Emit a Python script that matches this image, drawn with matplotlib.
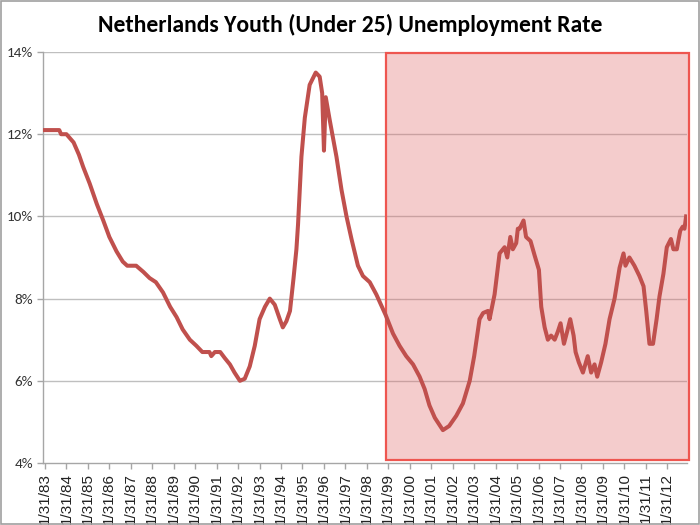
import matplotlib
matplotlib.use("Agg")
import matplotlib.pyplot as plt
from matplotlib.patches import Rectangle

# months since Jan 1983 and youth unemployment rate (%)
months = [0, 8, 9, 12, 14, 16, 19, 21.4, 25, 29, 32.6, 36, 40, 43.5, 46, 51, 55, 58.5,
          62, 66, 70, 73.6, 77, 81, 84.7, 88, 92, 93, 95, 98, 100.6, 103.4, 106, 109,
          111.7, 114.5, 117.3, 120, 123, 125.7, 128.5, 131.3, 133, 135, 137, 139, 140.6,
          141.5, 143.4, 145.3, 148, 151.4, 153.6, 155, 156, 157, 159.2, 163, 165.8, 168.6,
          171.4, 175, 177.8, 181.6, 185.3, 190.5, 194.6, 198.3, 202, 205.8, 209.5, 212.3,
          215, 218, 222.5, 226, 230, 233.7, 237.5, 240, 243, 245, 247.7, 248.6, 251.4,
          254.2, 257, 258.5, 260.2, 261.6, 263.5, 264.4, 265.4, 267.6, 269, 271.5, 273.8,
          276.2, 277.5, 279.4, 281.2, 283, 285, 286.8, 288.3, 290.2, 292, 293.7, 295.6,
          296.7, 298.5, 300.8, 303.5, 305.4, 307.3, 308.8, 311, 313.4, 315.7, 318.5,
          321.3, 323.5, 324.6, 326.8, 329.6, 332.4, 334.7, 336.2, 338, 340, 342, 343.6,
          345.8, 347.7, 350, 351.4, 353.3, 355.2, 356.6, 357.6, 358.5]
rates = [12.1, 12.1, 12.0, 12.0, 11.9, 11.8, 11.5, 11.2, 10.8, 10.3, 9.9, 9.5, 9.15, 8.9,
         8.8, 8.8, 8.65, 8.5, 8.4, 8.15, 7.8, 7.55, 7.25, 7.0, 6.85, 6.7, 6.7, 6.6, 6.7,
         6.7, 6.55, 6.4, 6.2, 6.0, 6.05, 6.35, 6.85, 7.5, 7.8, 8.0, 7.85, 7.5, 7.3, 7.45,
         7.7, 8.5, 9.2, 9.8, 11.45, 12.4, 13.2, 13.5, 13.4, 13.0, 11.6, 12.9, 12.35, 11.45,
         10.65, 10.0, 9.45, 8.8, 8.55, 8.4, 8.1, 7.6, 7.15, 6.85, 6.6, 6.4, 6.1, 5.8, 5.4,
         5.1, 4.8, 4.9, 5.15, 5.45, 6.0, 6.6, 7.5, 7.65, 7.7, 7.5, 8.1, 9.1, 9.25, 9.0, 9.5,
         9.2, 9.35, 9.7, 9.7, 9.9, 9.5, 9.4, 9.05, 8.7, 7.8, 7.3, 7.0, 7.1, 7.0, 7.2, 7.4,
         6.9, 7.2, 7.5, 7.1, 6.7, 6.45, 6.2, 6.6, 6.2, 6.4, 6.1, 6.45, 6.9, 7.5, 8.0, 8.75,
         9.1, 8.8, 9.0, 8.8, 8.55, 8.3, 7.7, 6.9, 6.9, 7.5, 8.05, 8.6, 9.25, 9.45, 9.2, 9.2,
         9.65, 9.75, 9.7, 10.0]

tick_months = list(range(0, 349, 12))
tick_labels = ["1/31/%02d" % (y % 100) for y in range(1983, 2013)]
y_ticks = [4, 6, 8, 10, 12, 14]
y_labels = ["4%", "6%", "8%", "10%", "12%", "14%"]

# highlighted region (start month, end month, low, high)
shade = (190.5, 360.3, 4.07, 13.97)

narrow = ['Carlito', 'Liberation Sans Narrow', 'DejaVu Sans']

fig = plt.figure(figsize=(7, 5.25), dpi=100)
ax = fig.add_axes([43 / 700, 1 - 463 / 525, (687 - 43) / 700, (463 - 52) / 525])

ax.set_xlim(-1.1, 359.0)
ax.set_ylim(4, 14)

for yv in y_ticks[1:]:
    ax.axhline(yv, color='#BFBFBF', lw=1.0, zorder=1)

rect = Rectangle((shade[0], shade[2]), shade[1] - shade[0], shade[3] - shade[2],
                 facecolor=(0.878, 0.40, 0.40, 0.33), edgecolor='#EE5650', lw=1.6,
                 zorder=2, clip_on=False)
ax.add_patch(rect)

ax.plot(months, rates, color='#C0504D', lw=2.9, zorder=3, solid_joinstyle='round')

ax.set_xticks(tick_months)
ax.set_xticklabels(tick_labels, rotation=90, fontsize=11, color='#222222',
                   family=['Liberation Sans', 'DejaVu Sans'])
ax.set_yticks(y_ticks)
ax.set_yticklabels(y_labels, fontsize=11, color='#333333', family=narrow)
ax.tick_params(axis='both', direction='out', length=4, color='#A6A6A6', width=1)
ax.tick_params(axis='x', pad=3)
ax.tick_params(axis='y', pad=3)

for s in ['top', 'right']:
    ax.spines[s].set_visible(False)
for s in ['left', 'bottom']:
    ax.spines[s].set_color('#A6A6A6')
    ax.spines[s].set_linewidth(1)

fig.text(0.5, 1 - 25 / 525, "Netherlands Youth (Under 25) Unemployment Rate",
         ha='center', va='center', fontsize=17, fontweight='bold', color='black',
         family=narrow)

fig.patches.append(Rectangle((0.001, 0.001), 0.998, 0.998, transform=fig.transFigure,
                             fill=False, edgecolor='#A0A0A0', lw=1.2))

fig.savefig("out.png", dpi=100)
